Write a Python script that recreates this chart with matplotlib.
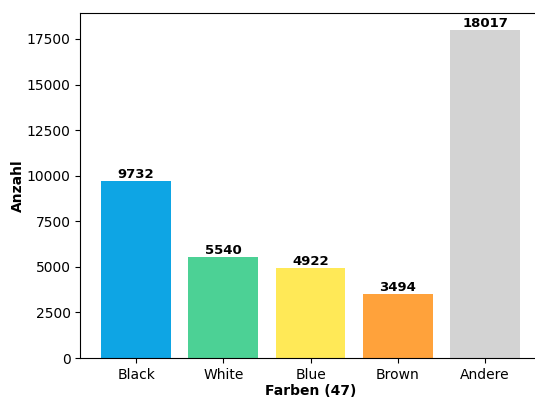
import matplotlib
matplotlib.use('Agg')
import matplotlib.pyplot as plt

# data
categories = ['Black', 'White', 'Blue', 'Brown', 'Andere']
counts = [9732, 5540, 4922, 3494, 18017]
bar_colors = ['#0ea5e4', '#4cd195', '#ffe957', '#ffa23b', '#d3d3d3']

fig, ax = plt.subplots(figsize=(5.35, 3.98), dpi=100)
fig.subplots_adjust(left=0.15, right=1.011, top=0.967, bottom=0.1005)

bars = ax.bar(categories, counts, color=bar_colors)
for b, v in zip(bars, counts):
    ax.text(b.get_x() + b.get_width() / 2, b.get_height(), str(v),
            ha='center', va='bottom', fontweight='bold', fontsize=9.5)

ax.set_xlabel('Farben (47)', fontweight='bold', labelpad=1.8)
ax.set_ylabel('Anzahl', fontweight='bold', labelpad=1)

plt.savefig('out.png')
